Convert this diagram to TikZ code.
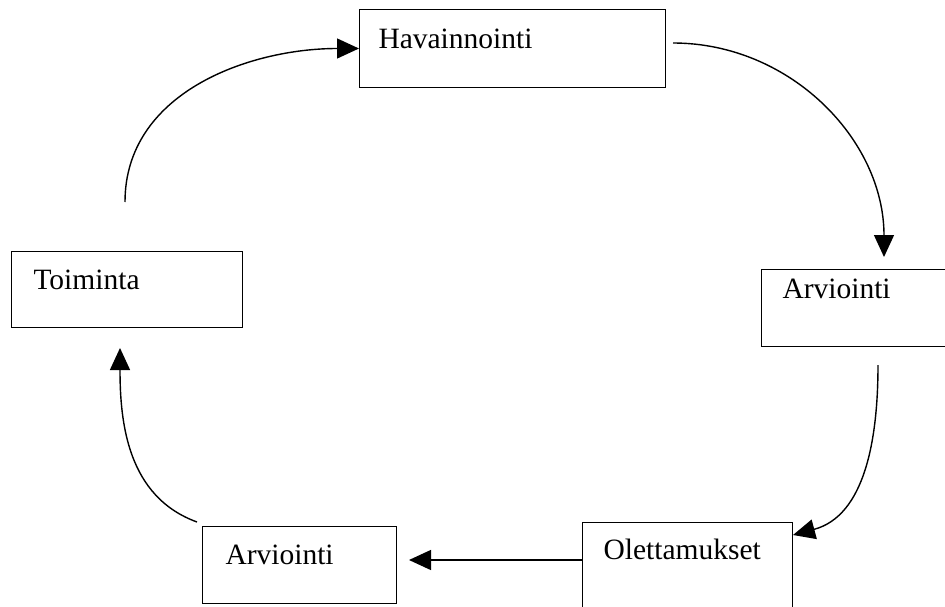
\documentclass[tikz,border=0pt]{standalone}
\usepackage{fontspec}
\setmainfont{Liberation Serif}
\usetikzlibrary{arrows.meta}

\begin{document}
\begin{tikzpicture} [x=1pt,y=1pt,>={Triangle[length=22pt,width=20pt]},line width=1.4pt,
	main node/.style={rectangle,draw,line width=1pt,anchor=north west,align=left,
	inner ysep=0pt,font=\fontsize{29.5}{34}\selectfont}]

	\useasboundingbox (0,0) rectangle (945,-607);
	\clip (0,0) rectangle (945,-607);

	\node[main node,inner xsep=19pt,text width=268pt,text height=39pt,text depth=39pt] (hav) at (359,-9) {Havainnointi};
	\node[main node,inner xsep=21pt,text width=158pt,text height=29pt,text depth=48pt] (arv1) at (761,-269) {Arviointi};
	\node[main node,inner xsep=21pt,text width=168pt,text height=37pt,text depth=80pt] (olet) at (582,-522) {Olettamukset};
	\node[main node,inner xsep=23pt,text width=148pt,text height=38pt,text depth=39pt] (arv2) at (202,-526) {Arviointi};
	\node[main node,inner xsep=22pt,text width=187pt,text height=38pt,text depth=38pt] (toim) at (11,-251) {Toiminta};

	\coordinate (toim-out) at (125,-202);
	\coordinate (hav-out) at (673,-43);
	\coordinate (arv1-in) at (884,-257);
	\coordinate (arv1-out) at (878,-365);
	\coordinate (olet-in) at (793,-535);
	\coordinate (olet-out) at (582,-560);
	\coordinate (arv2-in) at (409,-560);
	\coordinate (arv2-out) at (197,-522);
	\coordinate (toim-in) at (120,-348);

	\path[->]
	(toim-out) edge[out=90,in=180] (hav)
	(hav-out) edge[out=0,in=90] (arv1-in)
	(arv1-out) edge[out=-90,in=15] (olet-in)
	(olet-out) edge (arv2-in)
	(arv2-out) edge[out=160,in=-90] (toim-in);
\end{tikzpicture}
\end{document}
